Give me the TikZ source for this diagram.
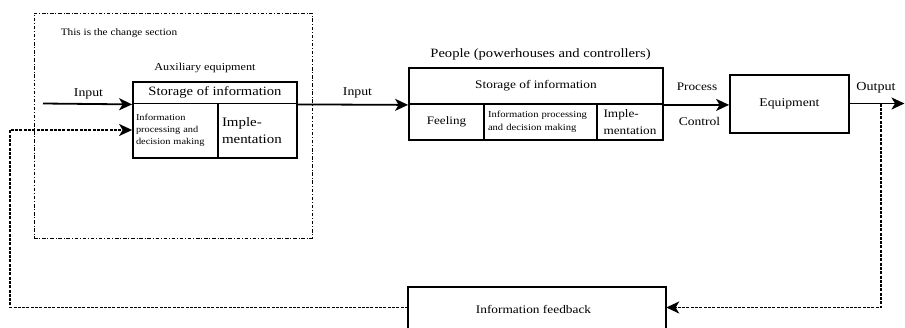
\documentclass[tikz,border=0pt]{standalone}
\usepackage{fontspec}
\setmainfont{Liberation Serif}[FakeStretch=1.15]
\usetikzlibrary{arrows.meta}

\tikzset{
  cell/.style={draw, line width=1.8pt, rectangle, inner sep=0pt, align=center},
  tip/.style={-{Stealth[length=13pt,width=12pt,inset=3.5pt]}},
  flow/.style={line width=1.8pt, tip},
  fback/.style={line width=1.6pt, dash pattern=on 3pt off 1.3pt, tip},
  lbl/.style={inner sep=0pt, font=\fontsize{12}{13}\selectfont},
  sectionbox/.style={draw, line width=0.9pt, dash pattern=on 3.5pt off 1.8pt on 1pt off 1.8pt}
}

\begin{document}
\begin{tikzpicture}[x=1pt,y=-1pt]
\useasboundingbox (0,0) rectangle (905,327);

% change section frame
\node[sectionbox, minimum width=278pt, minimum height=225pt, inner sep=0pt] (change) at (173,125.5) {};
\node[lbl, font=\fontsize{9.8}{10}\selectfont] (changelbl) at (119,33) {This is the change section};

% auxiliary equipment
\node[lbl, font=\fontsize{10.6}{11}\selectfont] (auxlbl) at (205,68) {Auxiliary equipment};
\node[cell, minimum width=164pt, minimum height=21.5pt, font=\fontsize{12.7}{14}\selectfont] (auxstore) at (215,92.75) {Storage of information};
\node[cell, minimum width=85pt, minimum height=54.5pt, font=\fontsize{9}{12}\selectfont, align=left, text width=79pt, inner xsep=3pt] (auxproc) at (175.5,130.75) {Information\\processing and\\decision making};
\node[cell, minimum width=79pt, minimum height=54.5pt, font=\fontsize{13}{17}\selectfont, align=left, text width=71pt, inner xsep=4pt] (auximpl) at (257.5,130.75) {Imple-\\mentation};

% people
\node[lbl, font=\fontsize{12.7}{13}\selectfont] (peoplelbl) at (540.5,54) {People (powerhouses and controllers)};
\node[cell, minimum width=254pt, minimum height=36pt, font=\fontsize{11.6}{13}\selectfont] (pstore) at (536,86) {Storage of information};
\node[cell, minimum width=75pt, minimum height=36pt, font=\fontsize{11.4}{13}\selectfont] (pfeel) at (446.5,122) {Feeling};
\node[cell, minimum width=113pt, minimum height=36pt, font=\fontsize{9.2}{13}\selectfont, align=left, text width=105pt, inner xsep=4pt] (pproc) at (540.5,122) {Information processing\\and decision making};
\node[cell, minimum width=66pt, minimum height=36pt, font=\fontsize{11.5}{17.5}\selectfont, align=left] (pimpl) at (630,122) {Imple-\\mentation};

% equipment
\node[cell, minimum width=119pt, minimum height=58pt, font=\fontsize{11.9}{13}\selectfont] (equip) at (789.5,104) {Equipment};

% information feedback (its bottom edge runs off the page)
\node[minimum width=258pt, minimum height=44pt, inner sep=0pt, font=\fontsize{11.6}{13}\selectfont] (feedback) at (537,309) {\hspace*{-7pt}Information feedback};
\draw[line width=1.8pt] (feedback.south west) -- (feedback.north west) -- (feedback.north east) -- (feedback.south east);

% main flow
\coordinate (inA) at (43,103.5);
\coordinate (outZ) at (904.5,103.5);
\coordinate (tap) at (881,103.5);
\coordinate (cornerR) at (881,307.5);
\coordinate (cornerL) at (10,307.5);
\coordinate (cornerUL) at (10,130);

\draw[flow] (inA) -- (auxstore.south west);
\node[lbl] (in1) at (88.5,94) {Input};
\draw[flow] (auxstore.south east) -- (pstore.south west);
\node[lbl] (in2) at (357.5,93) {Input};
\draw[flow] (pstore.south east) -- (equip.west |- pstore.south east);
\node[lbl, font=\fontsize{11.5}{13}\selectfont] (proc) at (697,87) {Process};
\node[lbl, font=\fontsize{11.8}{13}\selectfont] (ctrl) at (699.5,121) {Control};
\draw[flow] (equip.east |- outZ) -- (outZ);
\node[lbl, font=\fontsize{12.3}{13}\selectfont] (outlbl) at (876,88) {Output};

% feedback loop
\draw[fback] (tap) -- (cornerR) -- (feedback.east |- cornerR);
\draw[fback] (feedback.west |- cornerL) -- (cornerL) -- (cornerUL) -- (auxproc.west |- cornerUL);
\end{tikzpicture}
\end{document}
